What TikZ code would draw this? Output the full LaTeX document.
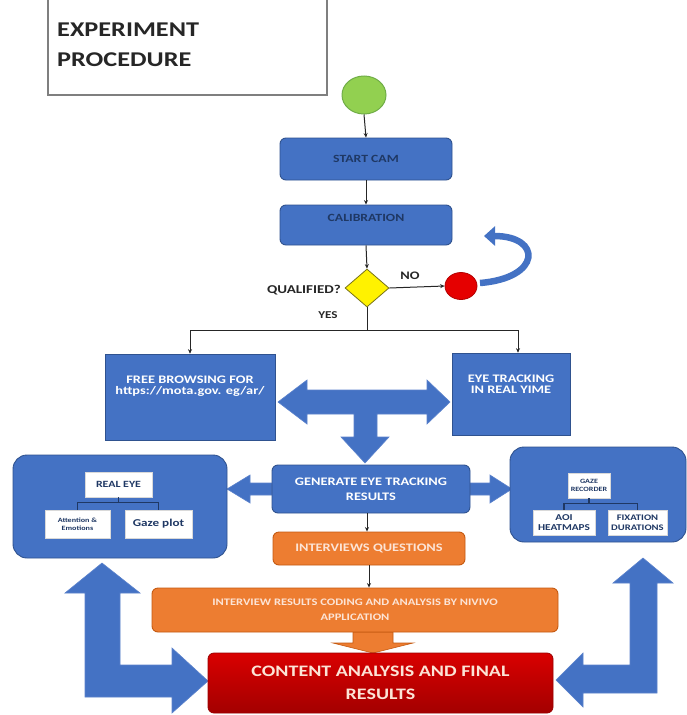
\documentclass[tikz,border=0pt]{standalone}
\usepackage{fontspec}
\setmainfont{Carlito}[FakeStretch=1.25]
\usetikzlibrary{shapes.geometric,arrows.meta}
\definecolor{bluefill}{HTML}{4472C4}
\definecolor{blueline}{HTML}{2F528F}
\definecolor{arrowline}{HTML}{5B82CC}
\definecolor{navy}{HTML}{1F3864}
\definecolor{orangefill}{HTML}{ED7D31}
\definecolor{orangeline}{HTML}{C55A11}
\definecolor{paletext}{HTML}{FCE4D6}
\definecolor{redfill}{HTML}{C00000}
\definecolor{greenfill}{HTML}{92D050}
\definecolor{greenline}{HTML}{70AD47}
\definecolor{titleline}{HTML}{7F7F7F}
\tikzset{
  bluebox/.style={draw=blueline, fill=bluefill, line width=0.9pt, rounded corners=6pt, inner sep=0pt, align=center, font=\bfseries},
  squarebox/.style={draw=blueline, fill=bluefill, line width=0.6pt, inner sep=0pt, align=center, text=white, font=\bfseries\fontsize{11.5}{14}\selectfont},
  bigbox/.style={draw=blueline, fill=bluefill, line width=0.9pt, rounded corners=14pt, inner sep=0pt},
  whitebox/.style={draw=white!85!black, fill=white, line width=0.5pt, inner sep=0pt, align=center, text=navy, font=\bfseries},
  orangebox/.style={draw=orangeline, fill=orangefill, line width=0.9pt, rounded corners=6pt, inner sep=0pt, align=center, text=paletext, font=\bfseries},
  blockarrow/.style={fill=bluefill, draw=arrowline, line width=0.6pt},
  flow/.style={draw=black!85, line width=1pt, -{Stealth[length=4.5pt,width=4pt]}},
  tree/.style={draw=navy, line width=1.2pt},
  lbl/.style={text=black!85, font=\bfseries\fontsize{10.5}{12}\selectfont, inner sep=0pt}
}
\begin{document}
\begin{tikzpicture}[x=1pt,y=-1pt]
\useasboundingbox (0,0) rectangle (687,715);
\fill[white] (0,0) rectangle (687,715);

% title box
\node[draw=titleline, line width=1.2pt, minimum width=279pt, minimum height=100pt, inner sep=0pt] (titlebox) at (187.5,45) {};
\node[anchor=west, align=left, inner sep=0pt, text=black!85, font=\bfseries\fontsize{21}{30}\selectfont] (title) at (57,45) {EXPERIMENT\\PROCEDURE};

% block arrows (drawn first)
\filldraw[blockarrow] (278,402) -- (307,380) -- (307,390) -- (427,390) -- (427,380) -- (450,402) -- (427,424) -- (427,414) -- (377,414) -- (377,437) -- (389,437) -- (365,463) -- (341,437) -- (354,437) -- (354,414) -- (307,414) -- (307,424) -- cycle;
\filldraw[blockarrow] (272,483) -- (250,483) -- (250,475) -- (227,489) -- (250,503) -- (250,495) -- (272,495) -- cycle;
\filldraw[blockarrow] (470,483) -- (490,483) -- (490,475) -- (512,489) -- (490,503) -- (490,495) -- (470,495) -- cycle;
\filldraw[blockarrow] (102,563) -- (140,593) -- (120,593) -- (120,665) -- (172,665) -- (172,648) -- (208,681) -- (172,713) -- (172,697) -- (85,697) -- (85,593) -- (65,593) -- cycle;
\filldraw[blockarrow] (643,558) -- (673,583) -- (657,583) -- (657,693) -- (583,693) -- (583,707) -- (556,680) -- (583,653) -- (583,665) -- (630,665) -- (630,583) -- (613,583) -- cycle;
\filldraw[fill=orangefill, draw=orangeline, line width=0.6pt] (353,632) -- (393,632) -- (393,643) -- (413,643) -- (373,653) -- (333,643) -- (353,643) -- cycle;

% flow nodes
\node[ellipse, draw=greenline, fill=greenfill, line width=1pt, minimum width=44pt, minimum height=38pt, inner sep=0pt] (startc) at (364,95) {};
\node[bluebox, minimum width=172pt, minimum height=42pt, text=navy, font=\bfseries\fontsize{11}{13}\selectfont] (startcam) at (366,159) {START CAM};
\node[bluebox, minimum width=172pt, minimum height=40pt, text=navy, font=\bfseries\fontsize{11}{13}\selectfont] (calib) at (366,225) {\raisebox{7pt}[0.6em][0pt]{CALIBRATION}};
\node[diamond, draw=olive!80!black, fill=yellow, line width=0.8pt, minimum width=44pt, minimum height=38pt, inner sep=0pt] (qual) at (367,288) {};
\node[ellipse, draw=red!70!black, fill=red!90!black, line width=0.8pt, minimum width=32pt, minimum height=27pt, inner sep=0pt] (fail) at (461,286) {};
\node[lbl, anchor=east, font=\bfseries\fontsize{12}{14}\selectfont] (qtext) at (341,290) {QUALIFIED?};
\node[lbl, font=\bfseries\fontsize{11.5}{13}\selectfont] (notext) at (410,276) {NO};
\node[lbl] (yestext) at (328,315) {YES};
\coordinate (split) at (367,330);

\node[squarebox, minimum width=170pt, minimum height=86pt] (free) at (190,397) {\raisebox{6pt}[0.6em][0pt]{\shortstack{FREE BROWSING FOR\\https://mota.gov. eg/ar/}}};
\node[squarebox, minimum width=118pt, minimum height=82pt] (eyet) at (511,394) {\raisebox{4pt}[0.6em][0pt]{\shortstack{EYE TRACKING\\IN REAL YIME}}};

\node[bluebox, minimum width=198pt, minimum height=48pt, text=white, font=\bfseries\fontsize{11.5}{15}\selectfont] (gen) at (371,489) {GENERATE EYE TRACKING\\RESULTS};

% left big box
\node[bigbox, minimum width=214pt, minimum height=103pt] (leftbig) at (120,506.5) {};
\node[whitebox, minimum width=67pt, minimum height=25pt, font=\bfseries\fontsize{9.5}{11}\selectfont] (realeye) at (118.5,484.5) {REAL EYE};
\node[whitebox, minimum width=65pt, minimum height=28pt, font=\bfseries\fontsize{6.5}{7.5}\selectfont] (attn) at (77.5,524) {Attention \&\\Emotions};
\node[whitebox, minimum width=67pt, minimum height=28pt, font=\bfseries\fontsize{10.5}{12}\selectfont] (gazeplot) at (158.5,524) {Gaze plot};
\draw[tree] (realeye.south) -- ++(0,5) -| (attn.north);
\draw[tree] (realeye.south) -- ++(0,5) -| (gazeplot.north);

% right big box
\node[bigbox, minimum width=176pt, minimum height=95pt] (rightbig) at (598,494.5) {};
\node[whitebox, minimum width=42pt, minimum height=25pt, font=\bfseries\fontsize{6.5}{8}\selectfont] (gazerec) at (589,485.5) {GAZE\\RECORDER};
\node[whitebox, minimum width=62pt, minimum height=25pt, font=\bfseries\fontsize{9}{9.5}\selectfont] (aoi) at (564,522.5) {AOI\\HEATMAPS};
\node[whitebox, minimum width=59pt, minimum height=25pt, font=\bfseries\fontsize{8.5}{9.5}\selectfont] (fix) at (637.5,522.5) {FIXATION\\DURATIONS};
\draw[tree] (gazerec.south) -- ++(0,5) -| (aoi.north);
\draw[tree] (gazerec.south) -- ++(0,5) -| (fix.north);

% orange boxes
\node[orangebox, minimum width=192pt, minimum height=33pt, font=\bfseries\fontsize{11.5}{14}\selectfont] (intq) at (369,548.5) {INTERVIEWS QUESTIONS};
\node[orangebox, minimum width=406pt, minimum height=44pt, font=\bfseries\fontsize{10}{15}\selectfont] (coding) at (355,610) {INTERVIEW RESULTS CODING AND ANALYSIS BY NIVIVO\\APPLICATION};

% content box
\node[draw=redfill!80!black, top color=red!85!black, bottom color=redfill!85!black, line width=0.8pt, rounded corners=6pt, minimum width=345pt, minimum height=60pt, inner sep=0pt, align=center, text=paletext, font=\bfseries\fontsize{16}{23}\selectfont] (content) at (380.5,683) {CONTENT ANALYSIS AND FINAL\\RESULTS};

% curved return arrow
\draw[draw=bluefill, line width=6.5pt, -{Triangle[width=19pt,length=11pt]}] (480,283) .. controls (542,278) and (542,236) .. (484,236);

% flow connectors
\draw[flow] (startc.south) -- (startcam.north);
\draw[flow] (startcam.south) -- (calib.north);
\draw[flow] (calib.south) -- (qual.north);
\draw[flow] (qual.east) -- (fail.west);
\draw[draw=black!85, line width=1pt] (qual.south) -- (split);
\draw[flow] (split) -| (free.north);
\draw[flow] (split) -| ([xshift=7pt]eyet.north);
\draw[flow] (gen.south) ++(-4,0) coordinate (gs) -- (gs |- intq.north);
\draw[flow] (intq.south) -- (intq.south |- coding.north);
\end{tikzpicture}
\end{document}
